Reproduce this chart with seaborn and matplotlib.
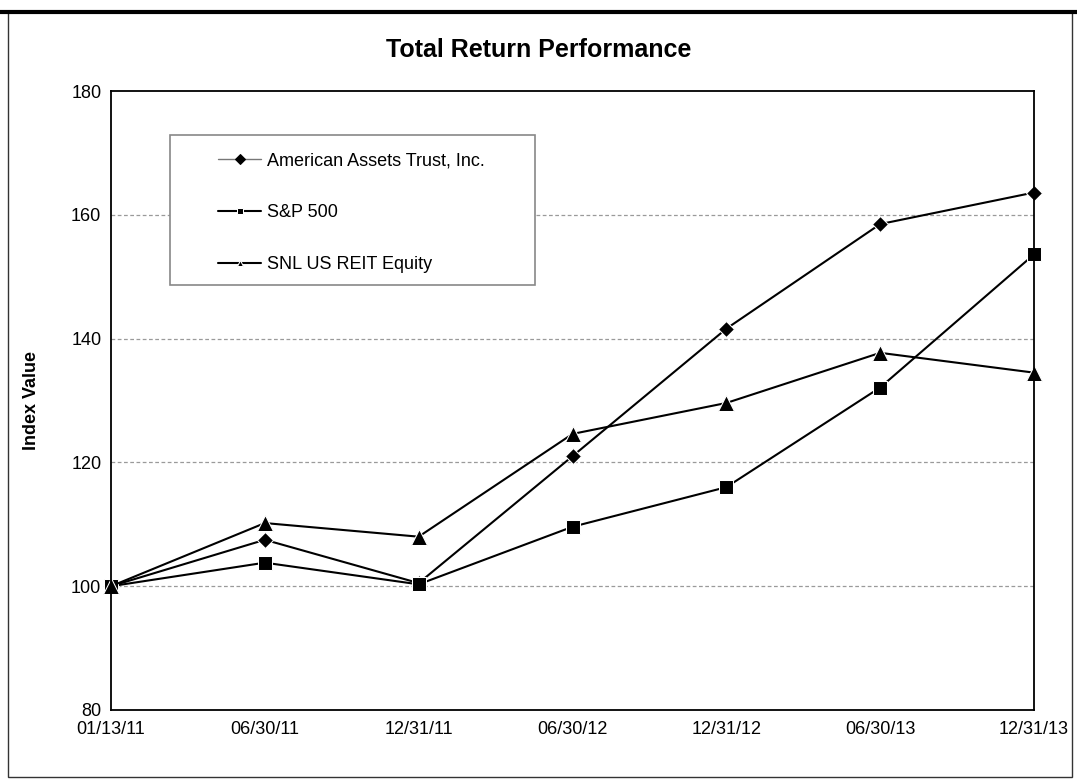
import matplotlib
matplotlib.use("Agg")
import matplotlib.pyplot as plt
import seaborn as sns
import pandas as pd
from matplotlib.patches import Rectangle

dates = ["01/13/11", "06/30/11", "12/31/11", "06/30/12", "12/31/12", "06/30/13", "12/31/13"]
aat = [100, 107.5, 100.5, 121.0, 141.6, 158.5, 163.6]
sp500 = [100, 103.8, 100.3, 109.6, 116.0, 132.1, 153.6]
reit = [100, 110.2, 108.0, 124.6, 129.6, 137.7, 134.5]
series_names = ["American Assets Trust, Inc.", "S&P 500", "SNL US REIT Equity"]
y_ticks = [80, 100, 120, 140, 160, 180]

rows = []
for name, vals in zip(series_names, [aat, sp500, reit]):
    for i, v in enumerate(vals):
        rows.append({"pos": i, "date": dates[i], "value": v, "series": name})
df = pd.DataFrame(rows)

sns.set_theme(style="white")
plt.rcParams["font.family"] = ["Liberation Sans", "DejaVu Sans"]
plt.rcParams["text.color"] = "black"
plt.rcParams["xtick.color"] = "black"
plt.rcParams["ytick.color"] = "black"
plt.rcParams["axes.labelcolor"] = "black"

W, H = 1077, 779
L, R, T, B = 111, 1034, 91, 710
fig = plt.figure(figsize=(W / 100, H / 100), dpi=100)
ax = fig.add_axes([L / W, 1 - B / H, (R - L) / W, (B - T) / H])

def ax_x(px):
    return (px - L) / (R - L)

def ax_y(py):
    return (B - py) / (B - T)

markers = {series_names[0]: "D", series_names[1]: "s", series_names[2]: "^"}
sns.lineplot(data=df, x="pos", y="value", hue="series", style="series",
             palette=["black", "black", "black"], markers=markers, dashes=False,
             linewidth=1.5, markersize=9, ax=ax, legend=True)
for ln, ms in zip(ax.lines, [8, 10, 11]):
    ln.set_markersize(ms)
    ln.set_clip_on(False)

ax.set_xlim(0, 6)
ax.set_ylim(80, 180)
ax.set_xticks(range(len(dates)))
ax.set_xticklabels(dates, fontsize=13)
ax.set_yticks(y_ticks)
ax.set_yticklabels([str(t) for t in y_ticks], fontsize=13)
for t in [100, 120, 140, 160]:
    ax.axhline(t, color="#9a9a9a", linestyle=(0, (3, 2)), linewidth=0.9, zorder=0)
ax.tick_params(axis="x", direction="in", length=7, width=1, pad=8)
ax.tick_params(axis="y", direction="inout", length=8, width=1, pad=3)
for s in ax.spines.values():
    s.set_color("black")
    s.set_linewidth(1.3)
ax.set_xlabel("")
ax.set_ylabel("Index Value", fontsize=13, fontweight="bold", labelpad=22)

# legend frame drawn separately so its size matches the reference
ax.add_patch(Rectangle((ax_x(170), ax_y(285)), ax_x(535) - ax_x(170), ax_y(135) - ax_y(285),
                       transform=ax.transAxes, facecolor="white", edgecolor="#888888",
                       linewidth=1.2, zorder=4, clip_on=False))

handles, labels = ax.get_legend_handles_labels()
leg = ax.legend(handles, labels, loc="upper left",
                bbox_to_anchor=(ax_x(218), ax_y(152)),
                frameon=False, fontsize=13, labelspacing=1.95, handlelength=2.4,
                borderpad=0, borderaxespad=0, handletextpad=0.3)
leg.set_zorder(5)
first = leg.get_lines()[0]
first.set_linewidth(1.0)
first.set_color("#777777")
first.set_markerfacecolor("black")
first.set_markeredgecolor("black")
for ln in leg.get_lines():
    ln.set_markersize(5)

fig.text(0.5, 1 - 50 / H, "Total Return Performance", ha="center", va="center",
         fontsize=18, fontweight="bold")

fig.patches.append(Rectangle((8 / W, 2 / H), 1064 / W, (H - 14) / H,
                             transform=fig.transFigure, fill=False,
                             edgecolor="#333333", linewidth=1.0))
fig.lines.append(plt.Line2D([0, 1], [1 - 12 / H, 1 - 12 / H], transform=fig.transFigure,
                            color="black", linewidth=3))

fig.savefig("out.png", dpi=100, facecolor="white")
